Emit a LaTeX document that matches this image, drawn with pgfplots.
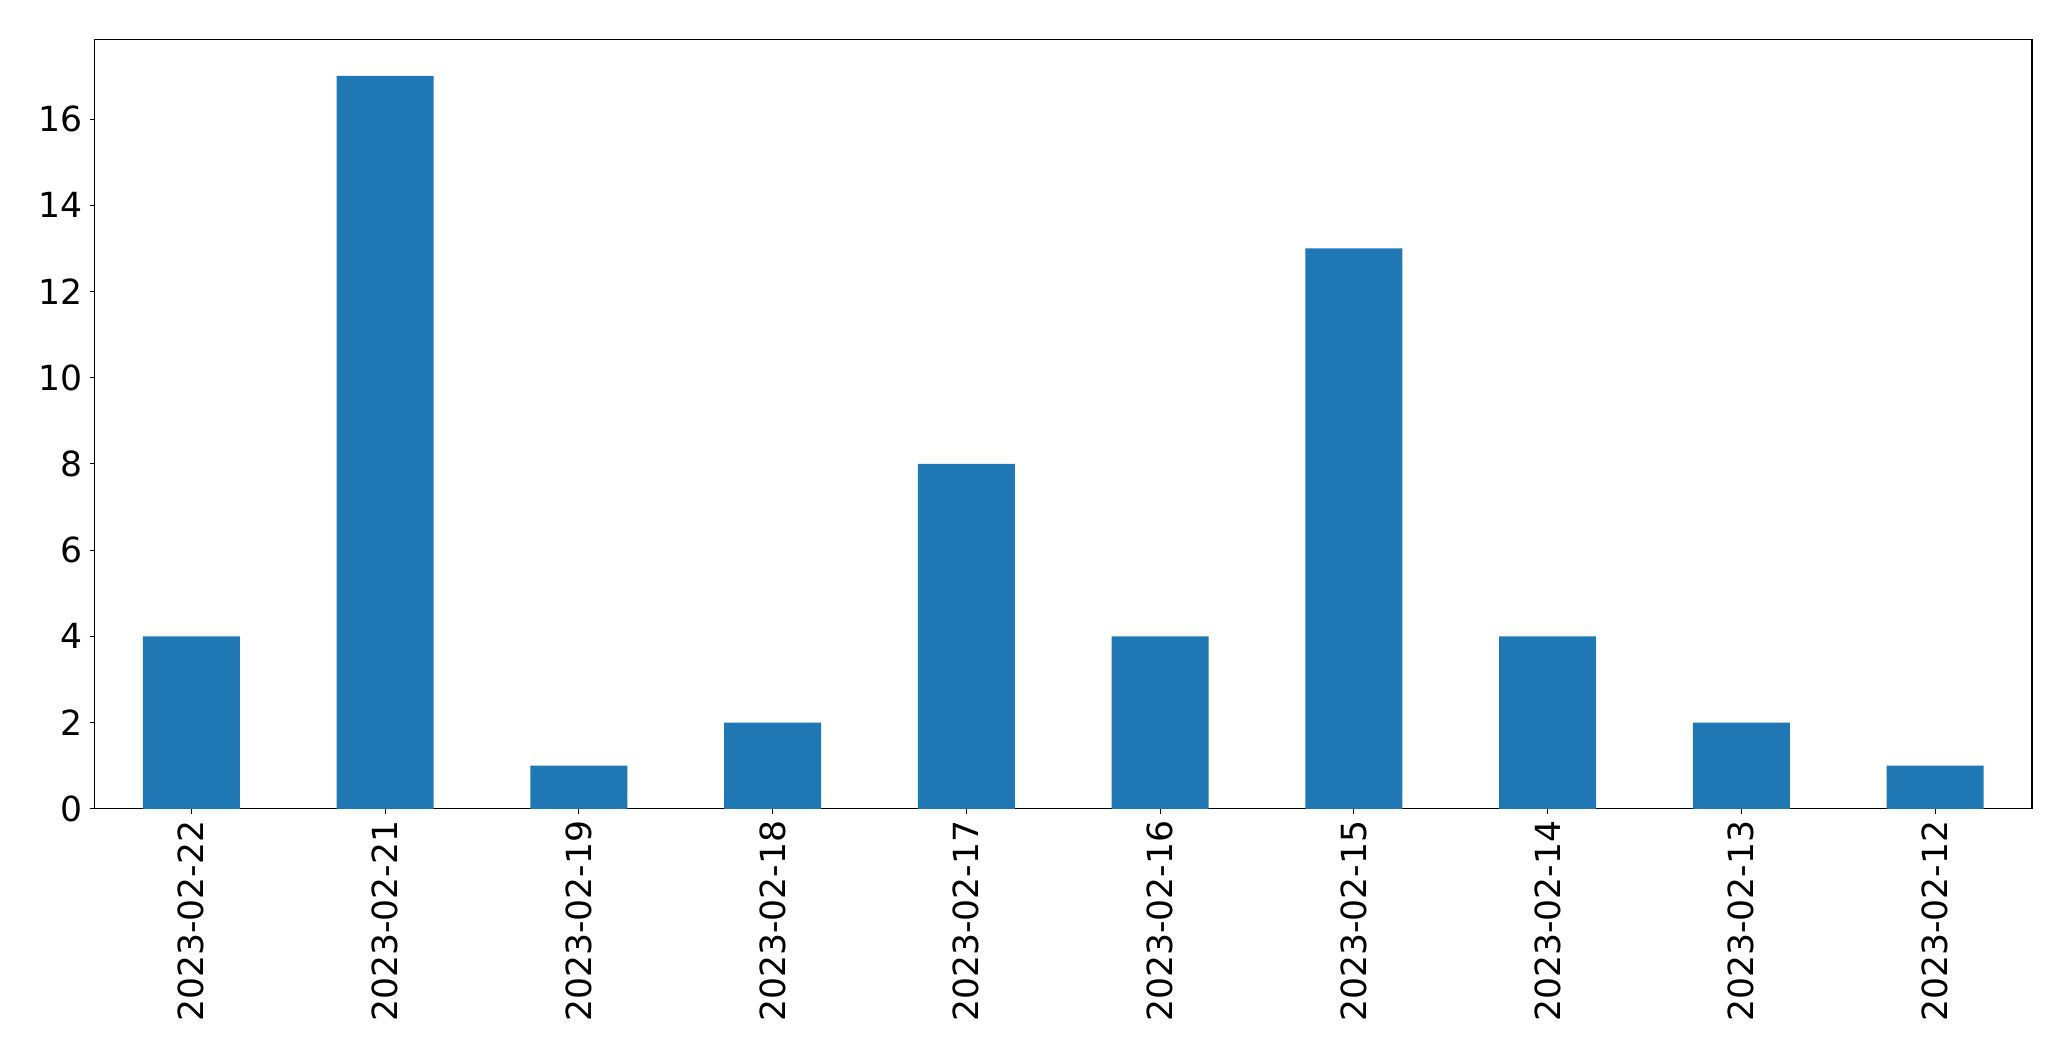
\documentclass[border=0pt]{standalone}
\usepackage{pgfplots}
\pgfplotsset{compat=1.18}
\usepackage{fontspec}
\setmainfont{DejaVu Sans}
\definecolor{barblue}{RGB}{31,119,180}

\begin{document}
\begin{tikzpicture}
\begin{axis}[
  name=main,
  at={(0,0)}, anchor=south west,
  scale only axis,
  width=1395bp, height=554bp,
  xmin=-0.5, xmax=9.5,
  ymin=0, ymax=17.85,
  ybar, bar width=0.5,
  xtick=data,
  xticklabels={2023-02-22,2023-02-21,2023-02-19,2023-02-18,2023-02-17,2023-02-16,2023-02-15,2023-02-14,2023-02-13,2023-02-12},
  ytick={0,2,...,16},
  tick align=outside,
  major tick length=3.5bp,
  tick style={black, line width=0.8bp},
  axis line style={line width=0.8bp},
  xtick pos=bottom, ytick pos=left,
  /pgf/number format/assume math mode=true,
  tick label style={font=\fontsize{25}{30}\selectfont},
  xticklabel style={rotate=90, anchor=east, inner sep=0pt, xshift=-5bp},
  yticklabel style={inner sep=0pt, xshift=-5bp},
]
\addplot[draw=none, fill=barblue] coordinates {(0,4) (1,17) (2,1) (3,2) (4,8) (5,4) (6,13) (7,4) (8,2) (9,1)};
\end{axis}
\path[use as bounding box] (-68bp,-181.4bp) rectangle (1423bp,582.3bp);
\end{tikzpicture}
\end{document}
